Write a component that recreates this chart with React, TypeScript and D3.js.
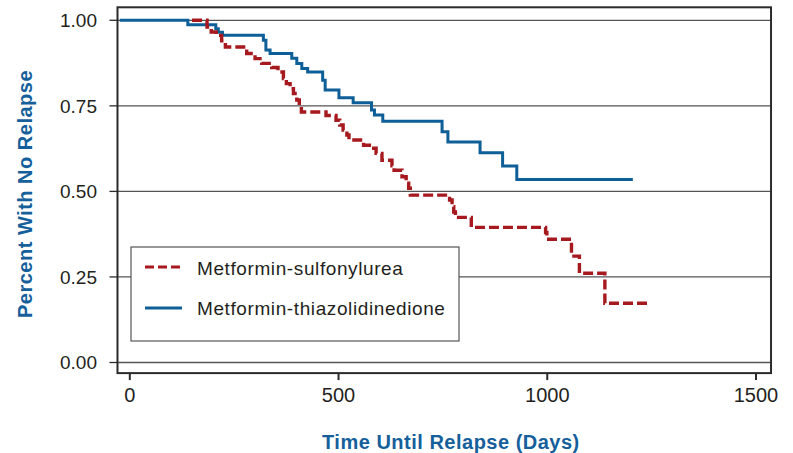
import React from "react";
import * as d3 from "d3";

const W = 793;
const H = 453;

const xTicks = [0, 500, 1000, 1500];
const yTicks = [0, 0.25, 0.5, 0.75, 1.0];
const yTickLabels = ["0.00", "0.25", "0.50", "0.75", "1.00"];

const seriesNames = ["Metformin-sulfonylurea", "Metformin-thiazolidinedione"];

const suTimes = [149, 185, 195, 207, 220, 229, 280, 300, 316, 340, 355, 368, 375, 384, 392, 400, 406, 411, 470, 494, 503, 511, 520, 525, 560, 580, 590, 604, 628, 633, 652, 662, 668, 672, 766, 772, 776, 780, 818, 996, 999, 1058, 1077, 1138, 1246];
const suSurv = [1.0, 0.98, 0.966, 0.956, 0.94, 0.922, 0.903, 0.888, 0.874, 0.862, 0.849, 0.83, 0.815, 0.8, 0.786, 0.767, 0.75, 0.732, 0.722, 0.708, 0.694, 0.679, 0.665, 0.65, 0.635, 0.626, 0.611, 0.591, 0.575, 0.562, 0.543, 0.524, 0.509, 0.489, 0.475, 0.455, 0.44, 0.424, 0.395, 0.38, 0.36, 0.311, 0.261, 0.173, 0.173];

const tzTimes = [-24, 139, 206, 212, 222, 320, 326, 336, 388, 400, 412, 426, 462, 468, 501, 535, 579, 586, 606, 748, 762, 839, 893, 927, 1205];
const tzSurv = [1.0, 0.987, 0.975, 0.965, 0.956, 0.942, 0.913, 0.903, 0.889, 0.874, 0.859, 0.849, 0.825, 0.796, 0.774, 0.759, 0.738, 0.723, 0.705, 0.674, 0.644, 0.613, 0.574, 0.535, 0.535];

const RED = "#a6191e";
const BLUE = "#0e5e98";
const TITLE_BLUE = "#15609b";
const TEXT = "#231f20";

export default function App() {
  const x = d3.scaleLinear().domain([0, 1500]).range([129.8, 756]);
  const y = d3.scaleLinear().domain([0, 1]).range([362.5, 20.3]);
  const xFrame = [x(-29.5), x(1536)];
  const yFrame = [y(1.038), y(-0.031)];

  const line = d3
    .line<[number, number]>()
    .x((d) => x(d[0]))
    .y((d) => y(d[1]))
    .curve(d3.curveStepAfter);

  const suPts = suTimes.map((t, i) => [t, suSurv[i]] as [number, number]);
  const tzPts = tzTimes.map((t, i) => [t, tzSurv[i]] as [number, number]);

  const font = "'Liberation Sans', Arial, Helvetica, sans-serif";

  const legX = 131;
  const legY = 247;

  return (
    <svg
      width={W}
      height={H}
      style={{ position: "absolute", left: 0, top: 0, background: "#fff" }}
      fontFamily={font}
    >
      <rect x={0} y={0} width={W} height={H} fill="#fff" />
      {yTicks.map((t) => (
        <line
          key={"g" + t}
          x1={xFrame[0]}
          x2={xFrame[1]}
          y1={y(t)}
          y2={y(t)}
          stroke="#555"
          strokeWidth={1.3}
        />
      ))}
      <path
        d={line(tzPts) || ""}
        fill="none"
        stroke={BLUE}
        strokeWidth={3}
        strokeLinejoin="miter"
      />
      <path
        d={line(suPts) || ""}
        fill="none"
        stroke={RED}
        strokeWidth={3.4}
        strokeDasharray="10,4"
        strokeLinejoin="miter"
      />
      <rect
        x={xFrame[0]}
        y={yFrame[0]}
        width={xFrame[1] - xFrame[0]}
        height={yFrame[1] - yFrame[0]}
        fill="none"
        stroke="#2b2b2b"
        strokeWidth={2}
      />
      {yTicks.map((t, i) => (
        <g key={"yt" + t}>
          <line x1={xFrame[0] - 8} x2={xFrame[0]} y1={y(t)} y2={y(t)} stroke="#2b2b2b" strokeWidth={1.3} />
          <text x={97} y={y(t)} dy="0.36em" textAnchor="end" fontSize={19} fill={TEXT}>
            {yTickLabels[i]}
          </text>
        </g>
      ))}
      {xTicks.map((t) => (
        <g key={"xt" + t}>
          <line x1={x(t)} x2={x(t)} y1={yFrame[1]} y2={yFrame[1] + 7} stroke="#2b2b2b" strokeWidth={2} />
          <text x={x(t)} y={401.5} textAnchor="middle" fontSize={20} fill={TEXT}>
            {t}
          </text>
        </g>
      ))}
      <text
        x={(x(0) + x(1500)) / 2 + 8}
        y={449}
        textAnchor="middle"
        fontSize={20}
        fontWeight="bold"
        letterSpacing={0.5}
        fill={TITLE_BLUE}
      >
        Time Until Relapse (Days)
      </text>
      <text
        transform={`translate(32,${194}) rotate(-90)`}
        textAnchor="middle"
        fontSize={20}
        fontWeight="bold"
        letterSpacing={0.5}
        fill={TITLE_BLUE}
      >
        Percent With No Relapse
      </text>
      <rect x={legX} y={legY} width={328} height={94} fill="#fff" stroke="#555" strokeWidth={1.2} />
      <line x1={legX + 14} x2={legX + 51} y1={legY + 20} y2={legY + 20} stroke={RED} strokeWidth={3} strokeDasharray="9,4" />
      <line x1={legX + 14} x2={legX + 51} y1={legY + 61} y2={legY + 61} stroke={BLUE} strokeWidth={3} />
      <text x={legX + 66} y={legY + 28} fontSize={19} letterSpacing={0.6} fill={TEXT}>
        {seriesNames[0]}
      </text>
      <text x={legX + 66} y={legY + 67.5} fontSize={19} letterSpacing={0.6} fill={TEXT}>
        {seriesNames[1]}
      </text>
    </svg>
  );
}
